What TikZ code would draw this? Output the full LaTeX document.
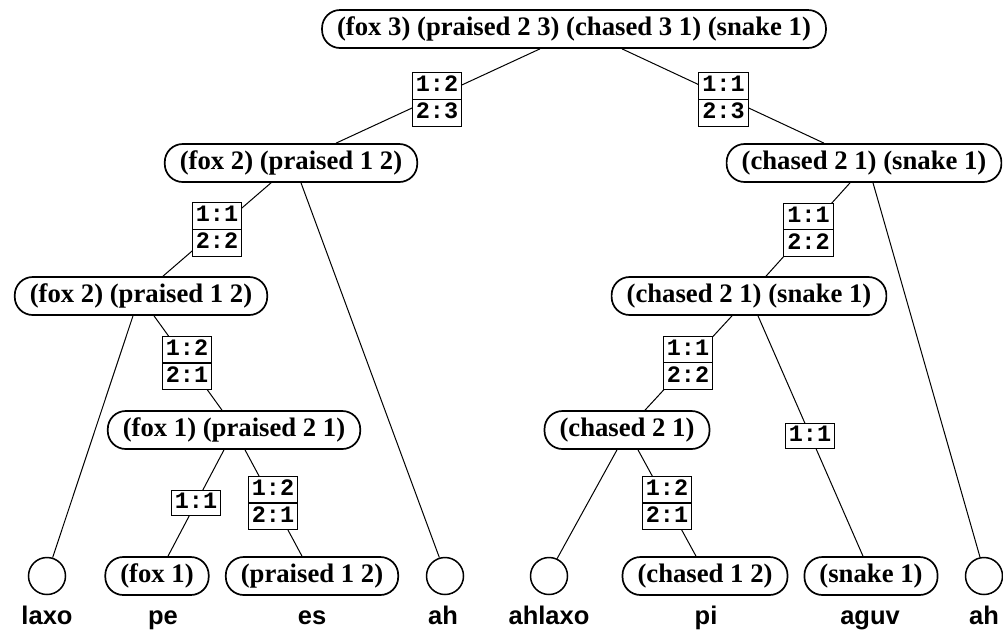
\documentclass[tikz,border=0pt]{standalone}
\usepackage{fontspec}
\setmainfont{Liberation Serif}
\newfontfamily\lsans{Liberation Sans}
\newfontfamily\lmono{Liberation Mono}
\usetikzlibrary{shapes.multipart}
\newcommand{\lst}{\rule[-4pt]{0pt}{17.5pt}}
\begin{document}
\begin{tikzpicture}[x=1pt,y=-1pt,
 tn/.style={draw, line width=1.7pt, rounded corners=18pt, minimum height=38pt, inner xsep=15pt, inner ysep=0pt, font=\fontsize{26.7}{28}\selectfont\bfseries},
 leaf/.style={draw, circle, line width=1.5pt, minimum size=37pt, inner sep=0pt},
 word/.style={anchor=base, font=\lsans\fontsize{25.5}{28}\selectfont\bfseries},
 labbase/.style={draw, fill=white, line width=1.1pt, inner xsep=3.5pt, inner ysep=3pt, font=\lmono\fontsize{23.5}{24}\selectfont\bfseries},
 lab/.style={labbase, rectangle split, rectangle split parts=2},
 edge/.style={line width=1pt}]
\useasboundingbox (0,0) rectangle (1003,633);
% tree nodes
\node[tn] (root) at (574,29) {(fox 3) (praised 2 3) (chased 3 1) (snake 1)};
\node[tn] (fox2) at (291,163) {(fox 2) (praised 1 2)};
\node[tn] (rs) at (864,163) {(chased 2 1) (snake 1)};
\node[tn] (fox2b) at (141,296) {(fox 2) (praised 1 2)};
\node[tn] (rs2) at (749,296) {(chased 2 1) (snake 1)};
\node[tn] (fox1) at (234,430) {(fox 1) (praised 2 1)};
\node[tn] (ch21) at (627,430) {(chased 2 1)};
\node[leaf] (laxo) at (47,576) {};
\node[tn] (foxl) at (157,576) {(fox 1)};
\node[tn] (prl) at (312,576) {(praised 1 2)};
\node[leaf] (ah1) at (445,576) {};
\node[leaf] (ahlaxo) at (549,576) {};
\node[tn] (ch12) at (705,576) {(chased 1 2)};
\node[tn] (sn) at (871,576) {(snake 1)};
\node[leaf] (ah2) at (984,576) {};
% words
\node[word] (w1) at (47,624) {laxo};
\node[word] (w2) at (163,624) {pe};
\node[word] (w3) at (312,624) {es};
\node[word] (w4) at (443,624) {ah};
\node[word] (w5) at (549,624) {ahlaxo};
\node[word] (w6) at (706,624) {pi};
\node[word] (w7) at (870,624) {aguv};
\node[word] (w8) at (984,624) {ah};
% edges
\draw[edge] ([xshift=-34pt]root.south) -- ([xshift=45pt]fox2.north);
\draw[edge] ([xshift=48pt]root.south) -- ([xshift=-40pt]rs.north);
\draw[edge] ([xshift=-20pt]fox2.south) -- ([xshift=22pt]fox2b.north);
\draw[edge] ([xshift=10pt]fox2.south) -- (ah1.107);
\draw[edge] ([xshift=-8pt]fox2b.south) -- (laxo.73);
\draw[edge] ([xshift=13pt]fox2b.south) -- ([xshift=-12pt]fox1.north);
\draw[edge] ([xshift=-10pt]fox1.south) -- ([xshift=11pt]foxl.north);
\draw[edge] ([xshift=11pt]fox1.south) -- ([xshift=-10pt]prl.north);
\draw[edge] ([xshift=-14pt]rs.south) -- ([xshift=17pt]rs2.north);
\draw[edge] ([xshift=9pt]rs.south) -- (ah2.102);
\draw[edge] ([xshift=-17pt]rs2.south) -- ([xshift=18pt]ch21.north);
\draw[edge] ([xshift=9pt]rs2.south) -- ([xshift=-8pt]sn.north);
\draw[edge] ([xshift=-10pt]ch21.south) -- (ahlaxo.65);
\draw[edge] ([xshift=11pt]ch21.south) -- ([xshift=-9pt]ch12.north);
% labels
\node[lab] (l1) at (437,99.5) {1:2\lst\nodepart{two}2:3\lst};
\node[lab] (r1) at (723.5,99.5) {1:1\lst\nodepart{two}2:3\lst};
\node[lab] (l2) at (217,229.5) {1:1\lst\nodepart{two}2:2\lst};
\node[lab] (r2) at (808.5,230) {1:1\lst\nodepart{two}2:2\lst};
\node[lab] (l3) at (187,363) {1:2\lst\nodepart{two}2:1\lst};
\node[lab] (r3) at (688,363) {1:1\lst\nodepart{two}2:2\lst};
\node[labbase] (l4) at (196,503) {1:1\lst};
\node[lab] (l5) at (273,503) {1:2\lst\nodepart{two}2:1\lst};
\node[labbase] (r4) at (810,436) {1:1\lst};
\node[lab] (r5) at (667,503) {1:2\lst\nodepart{two}2:1\lst};
\end{tikzpicture}
\end{document}
